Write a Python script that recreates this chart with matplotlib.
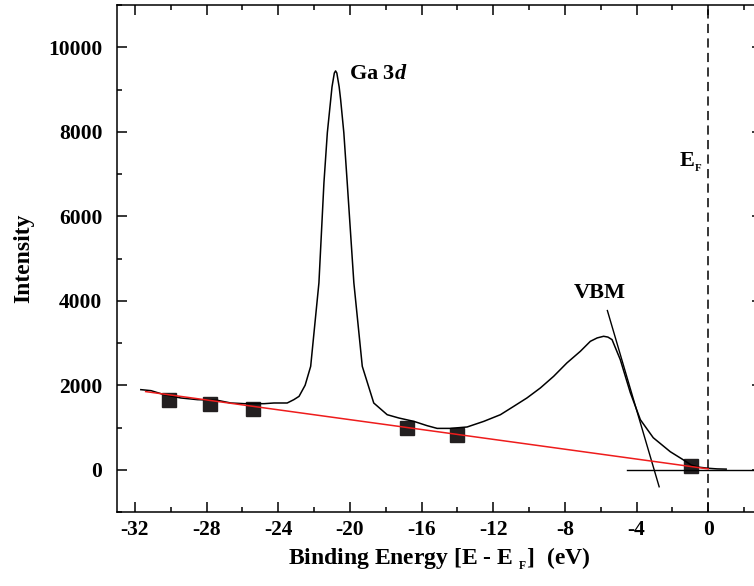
import matplotlib
matplotlib.use("Agg")
import matplotlib.pyplot as plt
from matplotlib.ticker import MultipleLocator

plt.rcParams['font.family'] = ['Liberation Serif', 'DejaVu Serif']
plt.rcParams['font.weight'] = 'bold'
plt.rcParams['axes.unicode_minus'] = False
plt.rcParams['mathtext.fontset'] = 'custom'
plt.rcParams['mathtext.rm'] = 'Liberation Serif:bold'
plt.rcParams['mathtext.bf'] = 'Liberation Serif:bold'
plt.rcParams['mathtext.it'] = 'Liberation Serif:italic:bold'

# Spectrum (binding energy, intensity)
energy = [-31.67, -31.1, -30.37, -29.44, -28.51, -27.39, -26.65, -25.9, -24.79, -24.24,
          -23.5, -23.13, -22.84, -22.5, -22.19, -21.73, -21.45, -21.26, -21.07, -21.0,
          -20.87, -20.8, -20.73, -20.6, -20.52, -20.34, -20.15, -19.78, -19.31, -18.67,
          -17.92, -17.27, -16.43, -15.69, -15.13, -14.39, -13.46, -12.53, -11.6, -10.86,
          -10.12, -9.37, -8.63, -7.89, -7.14, -6.58, -6.2, -5.84, -5.6, -5.37,
          -4.91, -4.35, -3.79, -3.07, -2.12, -1.4, -0.95, -0.5, 0.0, 0.5, 1.0]
intensity = [1896, 1872, 1777, 1699, 1659, 1643, 1580, 1564, 1564, 1580,
             1580, 1659, 1737, 2000, 2448, 4424, 6793, 7979, 8768, 9060,
             9390, 9440, 9390, 9060, 8768, 7979, 6793, 4424, 2448, 1580,
             1303, 1225, 1145, 1043, 979, 979, 1012, 1145, 1303, 1500,
             1699, 1936, 2211, 2528, 2803, 3040, 3120, 3159, 3140, 3080,
             2607, 1825, 1185, 758, 427, 237, 110, 60, 35, 20, 15]

# Background points
bg_x = [-30.1, -27.8, -25.4, -16.8, -14.0, -0.95]
bg_y = [1659, 1564, 1445, 995, 829, 95]

# Linear background fit (red)
fit_x = [-31.4, 0.0]
fit_y = [1850, 20]

# VBM tangent and baseline
tan_x = [-5.63, -2.74]
tan_y = [3768, -403]
base_x = [-4.52, 3.0]
base_y = [-10, -10]

fig = plt.figure(figsize=(7.54, 5.86), dpi=100)
ax = fig.add_axes([117/754, 74/586, 645/754, 507/586])

ax.plot(bg_x, bg_y, 's', color='#231f20', markersize=9.5, zorder=2)
ax.plot(energy, intensity, '-', color='black', lw=1.1, zorder=3)
ax.plot(fit_x, fit_y, '-', color='#ee1c1c', lw=1.1, zorder=4)
ax.plot(tan_x, tan_y, '-', color='black', lw=1.0, zorder=3)
ax.plot(base_x, base_y, '-', color='black', lw=1.0, zorder=3)
ax.axvline(0, color='black', lw=1.1, ls=(0, (6, 3.5)), zorder=3)

ax.set_xlim(-33, 3)
ax.set_ylim(-1000, 11000)
ax.xaxis.set_major_locator(MultipleLocator(4))
ax.xaxis.set_minor_locator(MultipleLocator(2))
ax.yaxis.set_major_locator(MultipleLocator(2000))
ax.yaxis.set_minor_locator(MultipleLocator(1000))
ax.tick_params(which='both', direction='in', top=True, right=True, width=1.1)
ax.tick_params(which='major', length=7)
ax.tick_params(which='minor', length=3.5)
ax.tick_params(axis='x', which='major', labelsize=15.5, pad=6)
ax.tick_params(axis='y', which='major', labelsize=15.5, pad=10.5)
for lab in ax.get_xticklabels() + ax.get_yticklabels():
    lab.set_fontweight('bold')
for s in ax.spines.values():
    s.set_linewidth(1.1)

ax.set_xlabel(r'Binding Energy [E - E $_{_{\mathrm{F}}}$]  (eV)', fontsize=17,
              fontweight='bold', labelpad=4)
ax.set_ylabel('Intensity', fontsize=17, fontweight='bold')
ax.yaxis.set_label_coords(-0.1287, 0.5)

ax.text(-20.07, 9360, r'Ga 3$\mathit{d}$', fontsize=16, fontweight='bold',
        ha='left', va='center')
ax.text(-7.53, 4194, 'VBM', fontsize=16, fontweight='bold', ha='left', va='center')
ax.text(-1.62, 7275, r'E$_{_{\mathrm{F}}}$', fontsize=16, fontweight='bold',
        ha='left', va='center')

fig.savefig('out.png', dpi=100)
